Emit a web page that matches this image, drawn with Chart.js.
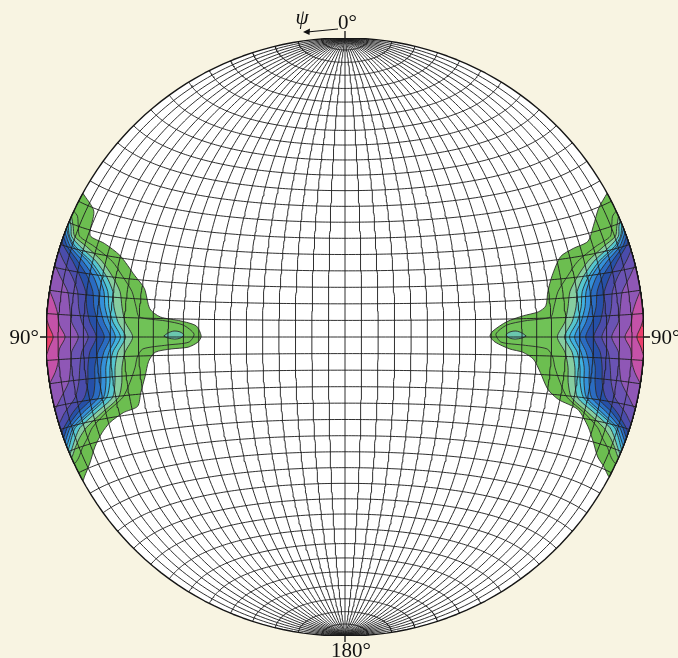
<!DOCTYPE html>
<html>
<head>
<meta charset="utf-8">
<script src="https://cdn.jsdelivr.net/npm/chart.js@4.4.1/dist/chart.umd.min.js"></script>
<style>
html, body { margin: 0; padding: 0; background: #f8f4e2; }
canvas { display: block; }
</style>
</head>
<body>
<canvas id="poleFigure" width="678" height="658"></canvas>
<script>
// equal-area net, one grid line every 4.5 deg
const netStep = 4.5;
const axisLabels = ['0°', '90°', '180°', '90°'];
const angleSymbol = 'ψ';

// contour boundaries as [row, depth], both in % of the net radius
// row = distance below the equator, depth = distance in from the rim along that row
const levelOuterLeft = [
	[-48.1, 0], [-42.1, 6.7], [-34.0, 8.8], [-31.3, 14.5], [-27.3, 20.9], [-20.5, 27.6],
	[-16.2, 31.6], [-9.4, 34.3], [-6.7, 38.0], [-5.4, 44.8], [-3.7, 50.2], [-0.3, 51.9],
	[1.7, 50.8], [3.4, 47.5], [4.0, 41.8], [5.1, 36.4], [8.1, 34.0], [13.1, 32.3],
	[18.5, 30.0], [23.2, 27.9], [25.3, 22.6], [28.6, 17.2], [32.0, 13.5], [36.7, 9.4],
	[42.1, 5.4], [46.8, 1.2], [48.1, 0]
];
const levelOuterRight = [
	[-48.1, 0], [-43.1, 5.4], [-37.4, 9.6], [-32.0, 13.5], [-29.6, 19.2], [-26.9, 24.2],
	[-20.5, 28.6], [-15.2, 31.0], [-10.4, 32.3], [-8.4, 35.0], [-7.1, 40.1], [-5.1, 45.8],
	[-2.0, 50.5], [-0.3, 51.5], [1.7, 49.8], [4.0, 44.8], [5.1, 40.4], [7.4, 36.7],
	[11.8, 34.0], [17.5, 30.6], [20.9, 26.4], [24.2, 19.2], [30.0, 14.1], [35.4, 10.4],
	[40.1, 7.1], [43.4, 3.5], [46.8, 0]
];
const level2 = [
	[-42.1, 0], [-40.4, 2.0], [-37.0, 3.7], [-33.7, 5.4], [-30.3, 11.4], [-25.3, 18.9],
	[-20.2, 23.6], [-15.2, 27.6], [-10.1, 29.6], [-6.7, 31.0], [-5.4, 39.7], [-4.0, 45.8],
	[-1.0, 49.5], [1.7, 47.8], [2.7, 40.4], [4.0, 32.3], [6.7, 30.3], [10.1, 29.3],
	[15.2, 26.9], [20.2, 23.6], [25.3, 16.8], [30.3, 10.8], [33.7, 8.1], [37.0, 5.1],
	[40.4, 2.4], [42.4, 0]
];
const level3 = [
	[-40.4, 0], [-37.0, 2.0], [-33.7, 3.7], [-30.3, 8.8], [-25.3, 15.5], [-20.2, 20.2],
	[-15.2, 23.6], [-10.1, 24.9], [-5.1, 26.3], [0, 29.0], [5.1, 26.3], [10.1, 24.9],
	[15.2, 24.2], [20.2, 22.2], [25.3, 15.5], [30.3, 8.8], [33.7, 5.4], [37.0, 2.7], [40.4, 0]
];
const level4 = [
	[-39.1, 0], [-37.0, 1.3], [-33.7, 2.7], [-30.3, 6.7], [-25.3, 13.5], [-20.2, 18.2],
	[-15.2, 21.2], [-10.1, 22.2], [-5.1, 23.9], [0, 26.6], [5.1, 23.9], [10.1, 22.6],
	[15.2, 21.9], [20.2, 20.2], [25.3, 13.5], [30.3, 6.7], [33.7, 4.0], [37.0, 1.7], [39.1, 0]
];
const level5 = [
	[-37.7, 0], [-33.7, 2.0], [-30.3, 5.1], [-25.3, 11.8], [-20.2, 16.5], [-15.2, 19.5],
	[-10.1, 20.5], [-5.1, 22.2], [0, 24.9], [5.1, 22.2], [10.1, 20.9], [15.2, 20.2],
	[20.2, 18.2], [25.3, 11.8], [30.3, 5.1], [33.7, 2.7], [37.7, 0]
];
const level6 = [
	[-36.4, 0], [-33.7, 1.7], [-30.3, 4.4], [-25.3, 10.8], [-20.2, 15.5], [-15.2, 18.2],
	[-10.1, 19.2], [-5.1, 20.9], [0, 23.2], [5.1, 20.9], [10.1, 19.5], [15.2, 18.9],
	[20.2, 17.2], [25.3, 10.8], [30.3, 4.4], [33.7, 2.0], [36.4, 0]
];
const level7 = [
	[-35.0, 0], [-30.3, 3.4], [-25.3, 9.1], [-20.2, 13.8], [-15.2, 16.5], [-10.1, 17.5],
	[-5.1, 19.2], [0, 21.5], [5.1, 19.2], [10.1, 17.8], [15.2, 17.2], [20.2, 15.5],
	[25.3, 9.1], [30.3, 3.4], [35.0, 0]
];
const level8 = [
	[-33.7, 0], [-30.3, 2.4], [-25.3, 7.4], [-20.2, 11.8], [-15.2, 14.5], [-10.1, 15.5],
	[-5.1, 17.2], [0, 19.5], [5.1, 17.2], [10.1, 15.8], [15.2, 15.2], [20.2, 13.5],
	[25.3, 7.4], [30.3, 2.4], [33.7, 0]
];
const level9 = [
	[-32.0, 0], [-30.3, 1.3], [-25.3, 5.7], [-20.2, 9.4], [-15.2, 12.1], [-10.1, 13.1],
	[-5.1, 14.5], [0, 16.8], [5.1, 14.5], [10.1, 13.5], [15.2, 12.8], [20.2, 10.8],
	[25.3, 5.7], [30.3, 1.3], [32.0, 0]
];
const level10 = [
	[-29.0, 0], [-25.3, 2.7], [-20.2, 6.7], [-15.2, 9.4], [-10.1, 10.4], [-5.1, 11.8],
	[0, 14.1], [5.1, 11.8], [10.1, 10.8], [15.2, 9.8], [20.2, 7.7], [25.3, 3.0], [29.0, 0]
];
const level11 = [
	[-24.2, 0], [-20.2, 2.7], [-15.2, 6.1], [-10.1, 7.4], [-5.1, 8.4], [0, 10.8],
	[5.1, 8.4], [10.1, 7.7], [15.2, 6.4], [20.2, 3.0], [24.2, 0]
];
const level12 = [
	[-15.5, 0], [-11.8, 2.0], [-8.4, 3.4], [-4.0, 4.4], [0, 6.4],
	[4.0, 4.4], [8.4, 3.7], [11.8, 2.4], [15.5, 0]
];
const level13 = [[-6.1, 0], [-3.4, 1.0], [0, 2.4], [3.4, 1.0], [6.1, 0]];
// small closed island inside the tongue
const lensLevel = [
	[-0.3, 39.4], [-1.3, 40.7], [-2.0, 42.8], [-1.7, 44.8], [-0.7, 46.1],
	[0.3, 45.1], [0.7, 43.1], [0.3, 40.7], [-0.3, 39.4]
];

const innerLevels = [level2, level3, level4, level5, level6, level7, level8, level9, level10, level11, level12, level13];
const levelColors = ['#6cbe50', '#70c257', '#86cda0', '#55c6cf', '#3fb0e0', '#3490d8', '#2a6cc2',
	'#2650a8', '#4a4cab', '#6a53b3', '#8f57b6', '#c452a8', '#ec3f6c'];
const lensColor = '#6ac7ae';

function project(lat, lon) {
	const p = lat * Math.PI / 180, l = lon * Math.PI / 180;
	const k = Math.sqrt(1 / (1 + Math.cos(p) * Math.cos(l)));
	return {x: k * Math.cos(p) * Math.sin(l), y: k * Math.sin(p)};
}

function rimPoint(side, pt) {
	const y = -pt[0] / 100;
	const edge = Math.sqrt(Math.max(0, 1 - y * y));
	return {x: side * (edge - pt[1] / 100), y: y};
}

// contour line plus the piece of rim that closes it
function contourShape(side, pts) {
	const out = pts.map(p => rimPoint(side, p));
	const a0 = Math.asin(out[out.length - 1].y), a1 = Math.asin(out[0].y);
	for (let i = 1; i <= 40; i++) {
		const a = a0 + (a1 - a0) * i / 40;
		out.push({x: side * Math.cos(a), y: Math.sin(a)});
	}
	return out;
}

let rim = [];
for (let t = 0; t <= 360; t += 2) {
	rim.push({x: Math.cos(t * Math.PI / 180), y: Math.sin(t * Math.PI / 180)});
}

let datasets = [];
datasets.push({data: rim, fill: 'shape', backgroundColor: '#ffffff', borderWidth: 0, order: 100});

[-1, 1].forEach(side => {
	let levels = [side < 0 ? levelOuterLeft : levelOuterRight].concat(innerLevels);
	levels.forEach((lv, i) => {
		datasets.push({
			data: contourShape(side, lv),
			fill: 'shape',
			backgroundColor: levelColors[i],
			borderColor: '#2c2c2c',
			borderWidth: 0.9,
			tension: 0.25,
			order: 60 - i
		});
	});
	datasets.push({
		data: lensLevel.map(p => rimPoint(side, p)),
		fill: 'shape',
		backgroundColor: lensColor,
		borderColor: '#2c2c2c',
		borderWidth: 0.9,
		tension: 0.3,
		order: 20
	});
});

// meridians and parallels of the net
const nLines = Math.round(180 / netStep) - 1;
for (let i = 1; i <= nLines; i++) {
	const a = -90 + i * netStep;
	let mer = [], par = [];
	for (let t = -90; t <= 90; t += 1) {
		mer.push(project(t, a));
		par.push(project(a, t));
	}
	[mer, par].forEach(line => {
		datasets.push({data: line, fill: false, borderColor: 'rgba(30,30,30,0.92)', borderWidth: 1, order: 2});
	});
}

datasets.push({data: rim, fill: false, borderColor: '#151515', borderWidth: 1.4, order: 0});

const background = {
	id: 'background',
	beforeDraw(chart) {
		const ctx = chart.ctx;
		ctx.save();
		ctx.fillStyle = '#f8f4e2';
		ctx.fillRect(0, 0, chart.width, chart.height);
		ctx.restore();
	}
};

const netLabels = {
	id: 'netLabels',
	afterDraw(chart) {
		const ctx = chart.ctx;
		const x = chart.scales.x, y = chart.scales.y;
		const cx = x.getPixelForValue(0), cy = y.getPixelForValue(0);
		const top = y.getPixelForValue(1), bottom = y.getPixelForValue(-1);
		const left = x.getPixelForValue(-1), right = x.getPixelForValue(1);
		ctx.save();
		ctx.strokeStyle = '#111';
		ctx.fillStyle = '#111';
		ctx.lineWidth = 1.3;
		ctx.beginPath();
		ctx.moveTo(cx, top); ctx.lineTo(cx, top - 7);
		ctx.moveTo(cx, bottom); ctx.lineTo(cx, bottom + 6);
		ctx.moveTo(left, cy); ctx.lineTo(left - 6, cy);
		ctx.moveTo(right, cy); ctx.lineTo(right + 6, cy);
		ctx.stroke();

		// psi arrow
		ctx.lineWidth = 1.1;
		ctx.beginPath();
		ctx.moveTo(cx - 7, top - 9);
		ctx.lineTo(cx - 38, top - 6);
		ctx.stroke();
		ctx.beginPath();
		ctx.moveTo(cx - 42, top - 6);
		ctx.lineTo(cx - 35, top - 9.5);
		ctx.lineTo(cx - 35.5, top - 3);
		ctx.closePath();
		ctx.fill();

		ctx.font = 'italic 21px "Liberation Serif"';
		ctx.textAlign = 'center';
		ctx.fillText(angleSymbol, cx - 43, top - 14);

		ctx.font = '21px "Liberation Serif"';
		ctx.textAlign = 'left';
		ctx.fillText(axisLabels[0], cx - 7, top - 9);
		ctx.fillText(axisLabels[2], cx - 14, bottom + 21);
		ctx.fillText(axisLabels[3], right + 7, cy + 7);
		ctx.textAlign = 'right';
		ctx.fillText(axisLabels[1], left - 7, cy + 7);
		ctx.restore();
	}
};

new Chart('poleFigure', {
	type: 'scatter',
	data: {datasets: datasets},
	options: {
		responsive: false,
		animation: false,
		events: [],
		showLine: true,
		layout: {padding: {left: 46, right: 34, top: 38, bottom: 22}},
		scales: {
			x: {type: 'linear', min: -1, max: 1, display: false},
			y: {type: 'linear', min: -1, max: 1, display: false}
		},
		elements: {point: {radius: 0, hoverRadius: 0}, line: {borderJoinStyle: 'round'}},
		plugins: {legend: {display: false}, tooltip: {enabled: false}}
	},
	plugins: [background, netLabels]
});
</script>
</body>
</html>
